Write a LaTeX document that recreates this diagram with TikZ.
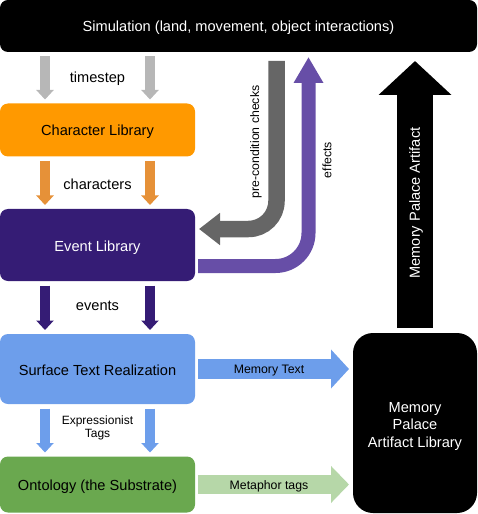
\documentclass[tikz,border=0pt]{standalone}
\usepackage{fontspec}
\setmainfont{Liberation Sans}
\usetikzlibrary{arrows.meta}
\definecolor{simgray}{HTML}{B7B7B7}
\definecolor{charorange}{HTML}{FF9900}
\definecolor{charorangedark}{HTML}{E69138}
\definecolor{eventpurple}{HTML}{351C75}
\definecolor{surfaceblue}{HTML}{6D9EEB}
\definecolor{ontogreen}{HTML}{6AA84F}
\definecolor{metagreen}{HTML}{B6D7A8}
\definecolor{checkgray}{HTML}{666666}
\definecolor{effectpurple}{HTML}{674EA7}
\newcommand\mainsize{\fontsize{14.6bp}{17.5bp}\selectfont}
\newcommand\smallsize{\fontsize{12.3bp}{13.5bp}\selectfont}
\begin{document}
\begin{tikzpicture}[x=1bp,y=-1bp,
  main node/.style={rectangle,rounded corners=8bp,inner sep=0.,outer sep=0.,minimum width=195bp,text height=12bp,text depth=0bp,font=\mainsize},
  down arrow/.style={line width=9.5bp,shorten <=4.5bp,shorten >=4bp,-{Triangle[length=9.5bp,width=17bp]}},
  label node/.style={font=\smallsize}]%
  \useasboundingbox (0,0) rectangle (478,514);
  \node[main node,fill=black,text=white,minimum width=477bp,minimum height=52bp] (sim) at (238.5,26) {Simulation (land, movement, object interactions)};
  \node[main node,fill=charorange,minimum height=53bp] (character) at (97.5,130) {Character Library};
  \node[main node,fill=eventpurple,text=white,minimum height=72bp] (event) at (97.5,245) {Event Library};
  \node[main node,fill=surfaceblue,minimum height=70bp] (surface) at (97.5,369) {Surface Text Realization};
  \node[main node,fill=ontogreen,minimum height=56bp] (ontology) at (97.5,484.5) {Ontology (the Substrate)};
  \node[rectangle,inner sep=0.,outer sep=0.,font=\mainsize,fill=black,text=white,rounded corners=20bp,minimum width=124bp,minimum height=180bp,align=center] (library) at (415,423) {\rule{0pt}{16.5bp}Memory\\Palace\\Artifact Library};
  % flow down the left column
  \foreach \from/\to/\col in {sim/character/simgray,character/event/charorangedark,event/surface/eventpurple,surface/ontology/surfaceblue}
    \foreach \cx in {45,150}
      \draw[down arrow,draw=\col] (\cx,0 |- \from.south) -- (\cx,0 |- \to.north);
  \node[font=\mainsize] (timestep) at (97.5,79) {timestep};
  \node[font=\mainsize] (characters) at (97.5,184) {characters};
  \node[font=\mainsize] (events) at (97.5,306) {events};
  \node[label node,font=\fontsize{12bp}{13.5bp}\selectfont,align=center] (tags) at (97.5,428) {Expressionist\\Tags};
  % checks and effects
  \draw[draw=checkgray,line width=16.5bp,rounded corners=28bp,shorten <=9bp,shorten >=4bp,-{Triangle[length=21bp,width=31bp]}] (sim.south -| 276.5,0) |- (event.east |- 0,229);
  \draw[draw=effectpurple,line width=14bp,rounded corners=33bp,shorten <=3bp,shorten >=5bp,-{Triangle[length=26bp,width=28bp]}] (event.east |- 0,266) -| (sim.south -| 308.5,0);
  \node[label node,rotate=90] (checks) at (256,142) {pre-condition checks};
  \node[label node,rotate=90] (effects) at (327,160) {effects};
  % into and out of the library
  \draw[draw=surfaceblue,line width=20bp,shorten <=3bp,shorten >=4bp,-{Triangle[length=18bp,width=38bp]}] (surface.east) -- (library.west |- surface.east);
  \draw[draw=metagreen,line width=19bp,shorten <=3bp,shorten >=4bp,-{Triangle[length=18bp,width=36bp]}] (ontology.east) -- (library.west |- ontology.east);
  \draw[draw=black,line width=36bp,shorten <=5bp,shorten >=9bp,-{Triangle[length=34bp,width=71bp]}] (library.north) -- (sim.south -| library.north);
  \node[label node] (memtext) at (269,370.5) {Memory Text};
  \node[label node] (metatags) at (269,486) {Metaphor tags};
  \node[font=\mainsize,text=white,rotate=90] (artifact) at (416,203) {Memory Palace Artifact};
\end{tikzpicture}
\end{document}
